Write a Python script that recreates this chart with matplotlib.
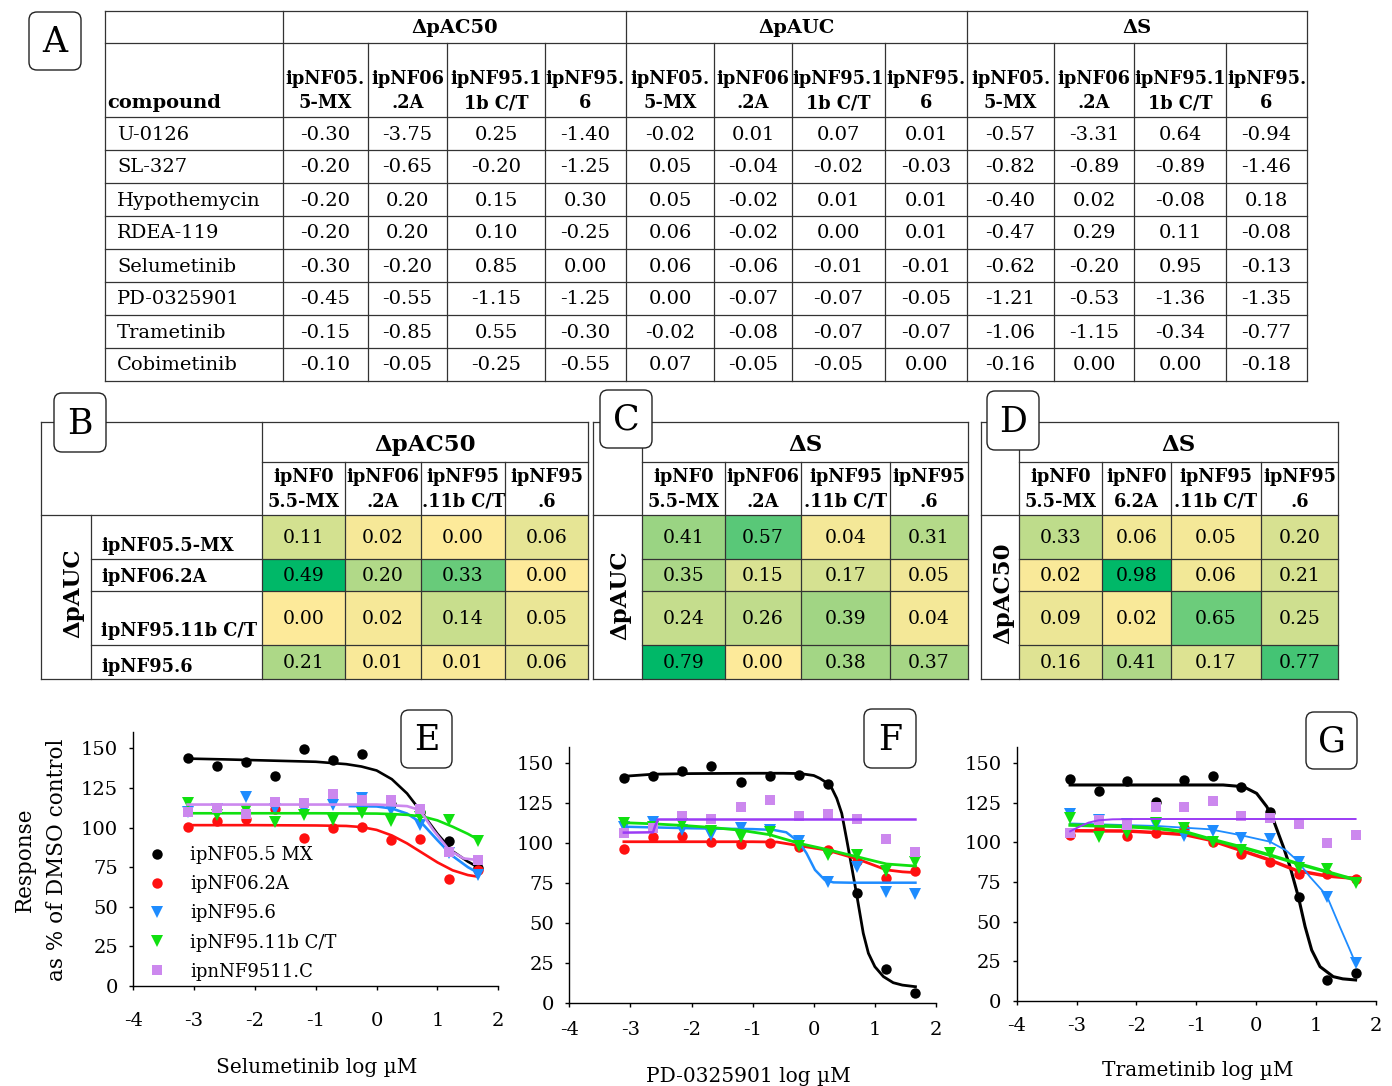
import numpy as np
import matplotlib
matplotlib.use("Agg")
import matplotlib.pyplot as plt
from matplotlib.patches import FancyBboxPatch
from matplotlib.colors import LinearSegmentedColormap, Normalize
from matplotlib.lines import Line2D

# ---------------- DATA ----------------
# Panel A
compounds = ["U-0126", "SL-327", "Hypothemycin", "RDEA-119", "Selumetinib",
             "PD-0325901", "Trametinib", "Cobimetinib"]
groupsA = ["ΔpAC50", "ΔpAUC", "ΔS"]
cellsA = ["ipNF05.\n5-MX", "ipNF06\n.2A", "ipNF95.1\n1b C/T", "ipNF95.\n6"]
dpAC50 = [[-0.30, -3.75, 0.25, -1.40], [-0.20, -0.65, -0.20, -1.25],
          [-0.20, 0.20, 0.15, 0.30], [-0.20, 0.20, 0.10, -0.25],
          [-0.30, -0.20, 0.85, 0.00], [-0.45, -0.55, -1.15, -1.25],
          [-0.15, -0.85, 0.55, -0.30], [-0.10, -0.05, -0.25, -0.55]]
dpAUC = [[-0.02, 0.01, 0.07, 0.01], [0.05, -0.04, -0.02, -0.03],
         [0.05, -0.02, 0.01, 0.01], [0.06, -0.02, 0.00, 0.01],
         [0.06, -0.06, -0.01, -0.01], [0.00, -0.07, -0.07, -0.05],
         [-0.02, -0.08, -0.07, -0.07], [0.07, -0.05, -0.05, 0.00]]
dS = [[-0.57, -3.31, 0.64, -0.94], [-0.82, -0.89, -0.89, -1.46],
      [-0.40, 0.02, -0.08, 0.18], [-0.47, 0.29, 0.11, -0.08],
      [-0.62, -0.20, 0.95, -0.13], [-1.21, -0.53, -1.36, -1.35],
      [-1.06, -1.15, -0.34, -0.77], [-0.16, 0.00, 0.00, -0.18]]

# Panels B-D
rowsB = ["ipNF05.5-MX", "ipNF06.2A", "ipNF95.11b C/T", "ipNF95.6"]
colsB = ["ipNF0\n5.5-MX", "ipNF06\n.2A", "ipNF95\n.11b C/T", "ipNF95\n.6"]
colsD = ["ipNF0\n5.5-MX", "ipNF0\n6.2A", "ipNF95\n.11b C/T", "ipNF95\n.6"]
valsB = [[0.11, 0.02, 0.00, 0.06], [0.49, 0.20, 0.33, 0.00],
         [0.00, 0.02, 0.14, 0.05], [0.21, 0.01, 0.01, 0.06]]
valsC = [[0.41, 0.57, 0.04, 0.31], [0.35, 0.15, 0.17, 0.05],
         [0.24, 0.26, 0.39, 0.04], [0.79, 0.00, 0.38, 0.37]]
valsD = [[0.33, 0.06, 0.05, 0.20], [0.02, 0.98, 0.06, 0.21],
         [0.09, 0.02, 0.65, 0.25], [0.16, 0.41, 0.17, 0.77]]

# Panels E-G dose response
series_names = ["ipNF05.5 MX", "ipNF06.2A", "ipNF95.6", "ipNF95.11b C/T", "ipnNF9511.C"]
log_conc = [-3.107, -2.63, -2.153, -1.676, -1.198, -0.721, -0.244, 0.233, 0.71, 1.187, 1.664]

E_black = [143.7, 139.1, 141.6, 132.5, 149.6, 142.6, 146.4, 115.0, 110.0, 91.7, 74.3]
E_red = [100.4, 104.4, 105.6, 111.5, 93.6, 99.9, 100.4, 92.1, 92.6, 67.5, 73.2]
E_blue = [110.0, 112.0, 119.0, 112.0, 110.8, 114.1, 118.9, 111.3, 101.6, 83.7, 70.0]
E_green = [115.7, 107.9, 111.0, 103.7, 108.0, 104.8, 109.0, 104.4, 106.9, 104.8, 91.7]
E_purple = [110.0, 112.1, 108.6, 116.3, 115.7, 121.0, 117.4, 117.4, 111.5, 84.8, 79.5]

E_black_fit_x = [-3.107, -2.5, -2.0, -1.5, -1.0, -0.5, -0.25, 0.0, 0.25, 0.5, 0.75, 1.0, 1.25, 1.5, 1.664]
E_black_fit_y = [143.5, 143.0, 142.5, 142.0, 141.5, 140.0, 138.5, 136.0, 130.5, 121.5, 109.0, 96.0, 85.0, 78.5, 75.0]
E_red_fit_x = [-3.107, -2.0, -1.0, -0.5, -0.25, 0.0, 0.25, 0.5, 0.75, 1.0, 1.25, 1.5, 1.664]
E_red_fit_y = [101.5, 101.5, 101.3, 101.0, 100.3, 98.5, 95.0, 90.0, 84.0, 78.0, 73.0, 70.0, 69.0]
E_blue_fit_x = [-0.44, 0.0, 0.25, 0.5, 0.75, 1.0, 1.25, 1.5, 1.664]
E_blue_fit_y = [113.5, 113.3, 112.0, 108.8, 102.5, 92.0, 82.0, 75.0, 71.5]
E_green_fit_x = [-3.107, -2.0, -1.0, 0.0, 0.25, 0.5, 0.75, 1.0, 1.25, 1.5, 1.664]
E_green_fit_y = [109.0, 109.0, 109.0, 108.8, 108.5, 108.0, 107.0, 104.5, 100.5, 96.0, 92.5]
E_purple_fit_x = [-3.107, -2.0, -1.0, 0.0, 0.5, 0.71, 0.93, 1.187, 1.43, 1.664]
E_purple_fit_y = [114.5, 114.5, 114.5, 114.5, 113.5, 111.0, 98.5, 86.0, 80.5, 79.5]

F_black = [140.6, 141.9, 145.0, 147.9, 138.1, 141.7, 142.3, 136.7, 68.3, 20.8, 5.8]
F_red = [96.0, 103.8, 104.2, 100.6, 99.2, 100.0, 97.1, 95.4, 88.8, 78.1, 82.3]
F_blue = [110.0, 113.0, 108.0, 104.8, 109.0, 108.0, 101.0, 75.6, 85.0, 69.4, 68.0]
F_green = [112.5, 109.6, 111.7, 107.5, 103.8, 106.9, 98.0, 92.3, 92.3, 82.5, 88.1]
F_purple = [106.3, 109.0, 116.7, 114.6, 122.5, 126.7, 116.7, 117.9, 114.8, 102.5, 94.0]

F_black_fit_x = [-3.107, -2.63, -2.0, -1.0, -0.5, -0.22, 0.0, 0.1, 0.27, 0.376, 0.458, 0.54, 0.62, 0.70, 0.81, 0.894, 1.0, 1.14, 1.30, 1.45, 1.664]
F_black_fit_y = [141.5, 142.8, 143.2, 143.4, 143.4, 143.2, 142.0, 140.2, 136.0, 127.7, 118.3, 101.7, 85.0, 68.0, 43.4, 30.9, 22.5, 16.3, 12.5, 11.0, 10.0]
F_red_fit_x = [-3.107, -2.0, -1.0, -0.6, -0.22, 0.21, 0.70, 1.19, 1.45, 1.664]
F_red_fit_y = [100.6, 100.6, 100.6, 100.4, 98.0, 95.4, 90.0, 83.0, 81.8, 81.3]
F_blue_fit_x = [-3.107, -2.0, -1.0, -0.66, -0.45, -0.33, -0.2, -0.12, 0.02, 0.18, 0.32, 0.6, 1.0, 1.664]
F_blue_fit_y = [110.0, 109.0, 108.5, 108.0, 106.5, 103.0, 98.0, 93.5, 83.0, 76.7, 75.2, 75.0, 75.0, 75.0]
F_green_fit_x = [-3.107, -2.63, -2.15, -1.7, -1.2, -0.72, -0.22, 0.21, 0.70, 1.19, 1.664]
F_green_fit_y = [112.5, 111.8, 110.8, 109.6, 107.8, 105.0, 99.4, 95.8, 91.3, 86.7, 85.4]
F_purple_fit_x = [-3.107, -2.63, -2.60, -2.55, -1.0, 0.0, 1.0, 1.664]
F_purple_fit_y = [106.3, 106.5, 110.0, 114.5, 114.5, 114.5, 114.5, 114.5]

G_black = [139.9, 132.5, 138.8, 125.8, 139.5, 142.2, 135.2, 119.4, 65.7, 13.1, 17.3]
G_red = [104.7, 108.9, 104.1, 106.2, 108.9, 100.5, 92.7, 87.8, 80.0, 80.0, 76.9]
G_blue = [118.0, 114.0, 111.6, 111.0, 104.1, 107.4, 102.6, 102.0, 87.8, 65.7, 24.0]
G_green = [115.2, 103.6, 105.7, 112.0, 108.9, 100.5, 95.2, 93.5, 83.6, 83.0, 74.6]
G_purple = [106.2, 114.2, 111.0, 122.2, 122.2, 126.4, 116.9, 115.2, 111.6, 99.8, 104.7]

G_black_fit_x = [-3.107, -2.0, -1.0, -0.55, -0.21, 0.01, 0.18, 0.29, 0.37, 0.456, 0.568, 0.707, 0.82, 0.93, 1.07, 1.29, 1.45, 1.664]
G_black_fit_y = [136.3, 136.3, 136.3, 136.3, 135.2, 131.0, 122.6, 114.2, 106.0, 97.3, 84.7, 65.7, 46.8, 32.0, 21.5, 15.2, 13.8, 13.1]
G_red_fit_x = [-3.107, -2.15, -1.66, -1.2, -0.77, -0.27, 0.23, 0.68, 1.18, 1.664]
G_red_fit_y = [107.4, 107.2, 106.2, 105.0, 101.5, 95.2, 88.9, 82.2, 78.8, 77.3]
G_blue_fit_x = [-3.107, -1.66, -0.77, -0.27, 0.23, 0.5, 0.68, 0.9, 1.18, 1.4, 1.57, 1.664]
G_blue_fit_y = [112.0, 110.4, 108.3, 104.7, 100.5, 95.0, 88.9, 78.3, 66.5, 46.8, 32.0, 23.6]
G_green_fit_x = [-3.107, -2.15, -1.66, -1.2, -0.77, -0.27, 0.23, 0.68, 1.18, 1.664]
G_green_fit_y = [111.0, 110.0, 108.9, 106.8, 102.2, 97.3, 92.0, 86.8, 81.5, 76.3]
G_purple_fit_x = [-3.107, -2.95, -2.8, -2.63, -2.4, -2.0, 0.0, 1.664]
G_purple_fit_y = [107.0, 110.0, 112.5, 114.0, 114.6, 114.8, 114.8, 114.8]

xlabels = ["Selumetinib log µM", "PD-0325901 log µM", "Trametinib log µM"]

# ---------------- FIGURE ----------------
plt.rcParams['font.family'] = ['DejaVu Serif']
plt.rcParams['axes.unicode_minus'] = False
W, H = 1392, 1086
fig = plt.figure(figsize=(W / 100, H / 100), dpi=100)

def rect(x0, x1, ybot, ytop):
    return [x0 / W, 1 - ybot / H, (x1 - x0) / W, (ybot - ytop) / H]

colors = {"black": "#000000", "red": "#FF1010", "blue": "#1E8CFF",
          "green": "#10E010", "purple_m": "#CC88EE", "purple_l": "#9B3BF5"}

def style_axis(ax, xpad):
    ax.set_xlim(-4, 2)
    ax.set_ylim(0, 160)
    ax.set_xticks(range(-4, 3))
    ax.set_yticks(range(0, 151, 25))
    for s in ["top", "right"]:
        ax.spines[s].set_visible(False)
    for s in ["left", "bottom"]:
        ax.spines[s].set_linewidth(1.0)
    ax.tick_params(axis="x", direction="out", length=3, width=1, labelsize=14, pad=xpad)
    ax.tick_params(axis="y", direction="out", length=3, width=1, labelsize=14, pad=8)

def draw_panel(ax, pts, fits, purple_line_color, lws):
    mk = [("o", colors["black"], 7.5), ("o", colors["red"], 7.5), ("v", colors["blue"], 8),
          ("v", colors["green"], 8), ("s", colors["purple_m"], 7.5)]
    lc = [colors["black"], colors["red"], colors["blue"], colors["green"], purple_line_color]
    for i in range(5):
        m, c, s = mk[i]
        ax.plot(log_conc, pts[i], ls="none", marker=m, color=c, markersize=s,
                markeredgewidth=0, zorder=2 + i)
        fx_, fy_ = fits[i]
        ax.plot(fx_, fy_, color=lc[i], lw=lws[i], zorder=2 + i, solid_joinstyle="round")

# E
axE = fig.add_axes(rect(133.3, 498.3, 986, 986 - 160 * 1.5847))
style_axis(axE, 16)
draw_panel(axE, [E_black, E_red, E_blue, E_green, E_purple],
           [(E_black_fit_x, E_black_fit_y), (E_red_fit_x, E_red_fit_y),
            (E_blue_fit_x, E_blue_fit_y), (E_green_fit_x, E_green_fit_y),
            (E_purple_fit_x, E_purple_fit_y)], colors["purple_m"], [1.9, 1.9, 1.9, 1.9, 1.9])
axE.set_xlabel(xlabels[0], fontsize=14.5)
axE.xaxis.set_label_coords(0.503, -0.283)
axE.set_ylabel("Response\nas % of DMSO control", fontsize=15.5, linespacing=1.6)
axE.yaxis.set_label_coords(-0.18, 0.497)
handles = [Line2D([], [], ls="none", marker="o", color=colors["black"], markersize=7.5, markeredgewidth=0),
           Line2D([], [], ls="none", marker="o", color=colors["red"], markersize=7.5, markeredgewidth=0),
           Line2D([], [], ls="none", marker="v", color=colors["blue"], markersize=8, markeredgewidth=0),
           Line2D([], [], ls="none", marker="v", color=colors["green"], markersize=8, markeredgewidth=0),
           Line2D([], [], ls="none", marker="s", color=colors["purple_m"], markersize=7.5, markeredgewidth=0)]
axE.legend(handles, series_names, loc="upper left", bbox_to_anchor=(147.6 / W, 1 - 846 / H),
           bbox_transform=fig.transFigure, frameon=False, handlelength=1.0,
           handletextpad=1.37, labelspacing=0.62, borderpad=0, borderaxespad=0, fontsize=13)

# F
axF = fig.add_axes(rect(569.3, 936, 1002.7, 1002.7 - 160 * 1.6))
style_axis(axF, 10.5)
draw_panel(axF, [F_black, F_red, F_blue, F_green, F_purple],
           [(F_black_fit_x, F_black_fit_y), (F_red_fit_x, F_red_fit_y),
            (F_blue_fit_x, F_blue_fit_y), (F_green_fit_x, F_green_fit_y),
            (F_purple_fit_x, F_purple_fit_y)], colors["purple_l"], [2.0, 2.0, 1.8, 2.0, 1.8])
axF.set_xlabel(xlabels[1], fontsize=14.5)
axF.xaxis.set_label_coords(0.487, -0.252)

# G
axG = fig.add_axes(rect(1016.7, 1375.7, 1000.7, 1000.7 - 160 * 1.5827))
style_axis(axG, 8.5)
draw_panel(axG, [G_black, G_red, G_blue, G_green, G_purple],
           [(G_black_fit_x, G_black_fit_y), (G_red_fit_x, G_red_fit_y),
            (G_blue_fit_x, G_blue_fit_y), (G_green_fit_x, G_green_fit_y),
            (G_purple_fit_x, G_purple_fit_y)], colors["purple_l"], [2.2, 2.5, 1.3, 2.5, 1.4])
axG.set_xlabel(xlabels[2], fontsize=14.5)
axG.xaxis.set_label_coords(0.505, -0.238)

# ---------------- overlay for tables / labels ----------------
ov = fig.add_axes([0, 0, 1, 1])
ov.set_xlim(0, W)
ov.set_ylim(H, 0)
ov.axis("off")
ov.set_zorder(10)
ov.patch.set_alpha(0)

LC = "#333333"
LW = 0.9

def hl(y, x0, x1):
    ov.plot([x0, x1], [y, y], color=LC, lw=LW, solid_capstyle="projecting", zorder=3)

def vl(x, y0, y1):
    ov.plot([x, x], [y0, y1], color=LC, lw=LW, solid_capstyle="projecting", zorder=3)

def label_box(x0, y0, x1, y1, letter):
    p = FancyBboxPatch((x0, y0), x1 - x0, y1 - y0, boxstyle="round,pad=0,rounding_size=8",
                       fc="white", ec="#222222", lw=1.0, zorder=5)
    ov.add_patch(p)
    ov.text((x0 + x1) / 2, (y0 + y1) / 2 + 1, letter, ha="center", va="center",
            fontsize=25, zorder=6)

# ----- Table A -----
colA = [105, 283, 368, 447, 545, 626, 714, 792, 885, 967, 1054, 1134, 1226, 1307]
rowA = [11, 43, 117, 150, 183, 216, 249, 282, 315, 348, 381]
for y in rowA:
    hl(y, colA[0], colA[-1])
for i, x in enumerate(colA):
    if i in (0, 1, 5, 9, 13):
        vl(x, rowA[0], rowA[-1])
    else:
        vl(x, rowA[1], rowA[-1])
for g in range(3):
    xc = (colA[1 + 4 * g] + colA[5 + 4 * g]) / 2
    ov.text(xc, (rowA[0] + rowA[1]) / 2 + 1, groupsA[g], ha="center", va="center",
            fontsize=14, fontweight="bold")
    for j in range(4):
        xc = (colA[1 + 4 * g + j] + colA[2 + 4 * g + j]) / 2
        l1, l2 = cellsA[j].split("\n")
        ov.text(xc, 79, l1, ha="center", va="center", fontsize=12.8, fontweight="bold")
        ov.text(xc, 103, l2, ha="center", va="center", fontsize=12.8, fontweight="bold")
ov.text(107, 103, "compound", ha="left", va="center", fontsize=14, fontweight="bold")
tablesA = [dpAC50, dpAUC, dS]
for r, name in enumerate(compounds):
    yc = (rowA[2 + r] + rowA[3 + r]) / 2 + 1
    ov.text(117, yc, name, ha="left", va="center", fontsize=14)
    for g in range(3):
        for j in range(4):
            xc = (colA[1 + 4 * g + j] + colA[2 + 4 * g + j]) / 2
            ov.text(xc, yc, f"{tablesA[g][r][j]:.2f}", ha="center", va="center", fontsize=14)
label_box(29, 12, 81, 70, "A")

# ----- Heatmap tables B, C, D -----
cmap = LinearSegmentedColormap.from_list("yg", [(0, "#FDEA9A"), (0.5, "#A0D584"), (1, "#00B868")])
rowY = [515, 559, 591, 645, 679]

def heat_table(xl, xlab, xdata, vals, title, cols, xrow=None):
    vals = np.array(vals)
    norm = Normalize(vmin=0, vmax=vals.max())
    ov.pcolormesh(xdata, rowY, vals, cmap=cmap, norm=norm, shading="flat", zorder=1)
    top, mid = 422, 462
    right = xdata[-1]
    hl(top, xl, right)
    hl(mid, xdata[0], right)
    hl(rowY[0], xl, right)
    for y in rowY[1:-1]:
        hl(y, xlab, right)
    hl(rowY[-1], xl, right)
    vl(xl, top, rowY[-1])
    vl(right, top, rowY[-1])
    if xrow is not None:
        vl(xrow, rowY[0], rowY[-1])
    vl(xdata[0], top, rowY[-1])
    for x in xdata[1:-1]:
        vl(x, mid, rowY[-1])
    ov.text((xdata[0] + right) / 2, 445, title, ha="center", va="center",
            fontsize=16.5, fontweight="bold")
    for j in range(4):
        xc = (xdata[j] + xdata[j + 1]) / 2
        l1, l2 = cols[j].split("\n")
        ov.text(xc, 477, l1, ha="center", va="center", fontsize=12.8, fontweight="bold")
        ov.text(xc, 502, l2, ha="center", va="center", fontsize=12.8, fontweight="bold")
        for i in range(4):
            yc = (rowY[i] + rowY[i + 1]) / 2 + 1
            ov.text(xc, yc, f"{vals[i, j]:.2f}", ha="center", va="center", fontsize=13.5)

# B
xB = [262, 345, 421, 505, 588]
heat_table(41, 91, xB, valsB, "ΔpAC50", colsB, xrow=91)
for lab, yy in zip(rowsB, [546, 577, 631, 667]):
    ov.text(101, yy, lab, ha="left", va="center", fontsize=12.8, fontweight="bold")
ov.text(73, 593, "ΔpAUC", ha="center", va="center", rotation=90, fontsize=16.5, fontweight="bold")
label_box(54, 393, 106, 452, "B")

# C
xC = [642, 725, 801, 890, 968]
heat_table(593, 642, xC, valsC, "ΔS", colsB)
ov.text(620, 595, "ΔpAUC", ha="center", va="center", rotation=90, fontsize=16.5, fontweight="bold")
label_box(600, 390, 652, 448, "C")

# D
xD = [1019, 1102, 1171, 1261, 1338]
heat_table(981, 1019, xD, valsD, "ΔS", colsD)
ov.text(1003, 593, "ΔpAC50", ha="center", va="center", rotation=90, fontsize=16.5, fontweight="bold")
label_box(987, 391, 1039, 450, "D")

# E F G labels
label_box(401, 710, 452, 768, "E")
label_box(864, 709, 916, 768, "F")
label_box(1306, 712, 1357, 769, "G")

fig.savefig("out.png", dpi=100)
